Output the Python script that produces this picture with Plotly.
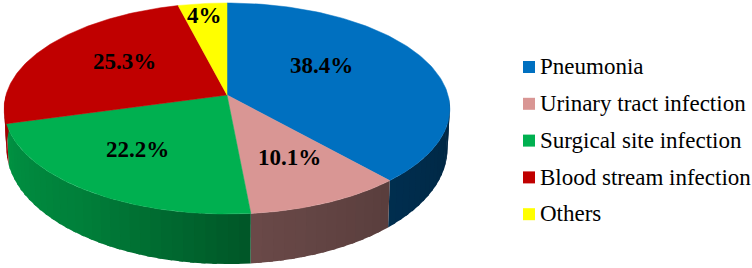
import numpy as np
import plotly.graph_objects as go

categories = ["Pneumonia", "Urinary tract infection", "Surgical site infection",
              "Blood stream infection", "Others"]
values = [38.4, 10.1, 22.2, 25.3, 4]
labels = ["38.4%", "10.1%", "22.2%", "25.3%", "4%"]
colors = ["#0070C0", "#D99694", "#00B050", "#C00000", "#FFFF00"]

# perspective view of the disc, in pixels of the 752x268 canvas
CX, CY, A, B, K = 227.0, 95.0, 221.0, 103.8, 0.128
DROP, SX, SY = 38.6, 0.99, 1.096
WALL_FROM, WALL_TO = 92.0, 271.0
SHADE_ANGLE = [90, 138, 175, 215, 255, 272]
SHADE_GAIN = [0.33, 0.41, 0.49, 0.72, 0.83, 0.85]
LABEL_R = 0.55
LABEL_SHIFT = [(-16, -9.5), (11, 6.5), (-16, 4.5), (-1, -5.5), (-8, -27)]
LEG_MARK_X, LEG_TEXT_X, LEG_Y0, LEG_DY, LEG_TEXT_DY = 529, 540, 67, 36.8, 1.5


def top(deg, r=1.0):
    a = np.radians(deg)
    u, v = r * np.sin(a), -r * np.cos(a)
    w = 1 - K * v
    return CX + A * u / w, CY + B * v / w


def bottom(deg):
    x, y = top(deg)
    return CX + SX * (x - CX), CY + DROP + SY * (y - CY)


def shade(hex_color, gain):
    rgb = [int(hex_color[i:i + 2], 16) for i in (1, 3, 5)]
    return "rgb({},{},{})".format(*[int(round(c * gain)) for c in rgb])


fracs = np.cumsum([0] + values) / sum(values) * 360.0
fig = go.Figure()


def poly(xs, ys, color, lw=0.0):
    fig.add_trace(go.Scatter(x=xs, y=ys, mode="lines", fill="toself", fillcolor=color,
                             line=dict(color=color, width=lw), hoverinfo="skip",
                             showlegend=False))


# side wall, drawn in thin shaded strips that overlap the next one
for i, c in enumerate(colors):
    a0, a1 = max(fracs[i], WALL_FROM), min(fracs[i + 1], WALL_TO)
    if a1 <= a0:
        continue
    edges = np.linspace(a0, a1, max(2, int((a1 - a0) / 2.5) + 1))
    for s, e in zip(edges[:-1], edges[1:]):
        arc = np.linspace(s, min(e + 1.0, a1), 5)
        tx, ty = top(arc)
        bx, by = bottom(arc)
        gain = np.interp((s + e) / 2, SHADE_ANGLE, SHADE_GAIN)
        poly(list(tx) + list(bx[::-1]), list(ty) + list(by[::-1]), shade(c, gain))

# top faces
for i, c in enumerate(colors):
    arc = np.linspace(fracs[i], fracs[i + 1], 120)
    ax, ay = top(arc)
    poly([CX] + list(ax) + [CX], [CY] + list(ay) + [CY], c, 0.5)

# key
rows = [LEG_Y0 + LEG_DY * i for i in range(len(categories))]
fig.add_trace(go.Scatter(x=[LEG_MARK_X] * len(rows), y=rows, mode="markers",
                         marker=dict(symbol="square", size=12, color=colors),
                         hoverinfo="skip", showlegend=False))
fig.add_trace(go.Scatter(x=[LEG_TEXT_X] * len(rows), y=[r + LEG_TEXT_DY for r in rows],
                         mode="text", text=categories, textposition="middle right",
                         textfont=dict(family="Liberation Serif", size=23, color="#000000"),
                         hoverinfo="skip", showlegend=False))

annotations = []
for i, lab in enumerate(labels):
    x, y = top((fracs[i] + fracs[i + 1]) / 2, LABEL_R)
    annotations.append(dict(x=float(x), y=float(y), xref="x", yref="y", text="<b>%s</b>" % lab,
                            showarrow=False, xshift=LABEL_SHIFT[i][0], yshift=-LABEL_SHIFT[i][1],
                            font=dict(family="Liberation Serif", size=23, color="#000000")))

fig.update_layout(
    width=752, height=268, margin=dict(l=0, r=0, t=0, b=0),
    paper_bgcolor="white", plot_bgcolor="white", showlegend=False,
    xaxis=dict(range=[0, 752], visible=False, fixedrange=True),
    yaxis=dict(range=[268, 0], visible=False, fixedrange=True),
    annotations=annotations,
)
fig.write_html("out.html", config=dict(displayModeBar=False),
               post_script="document.body.style.margin='0';document.documentElement.style.overflow='hidden';")
